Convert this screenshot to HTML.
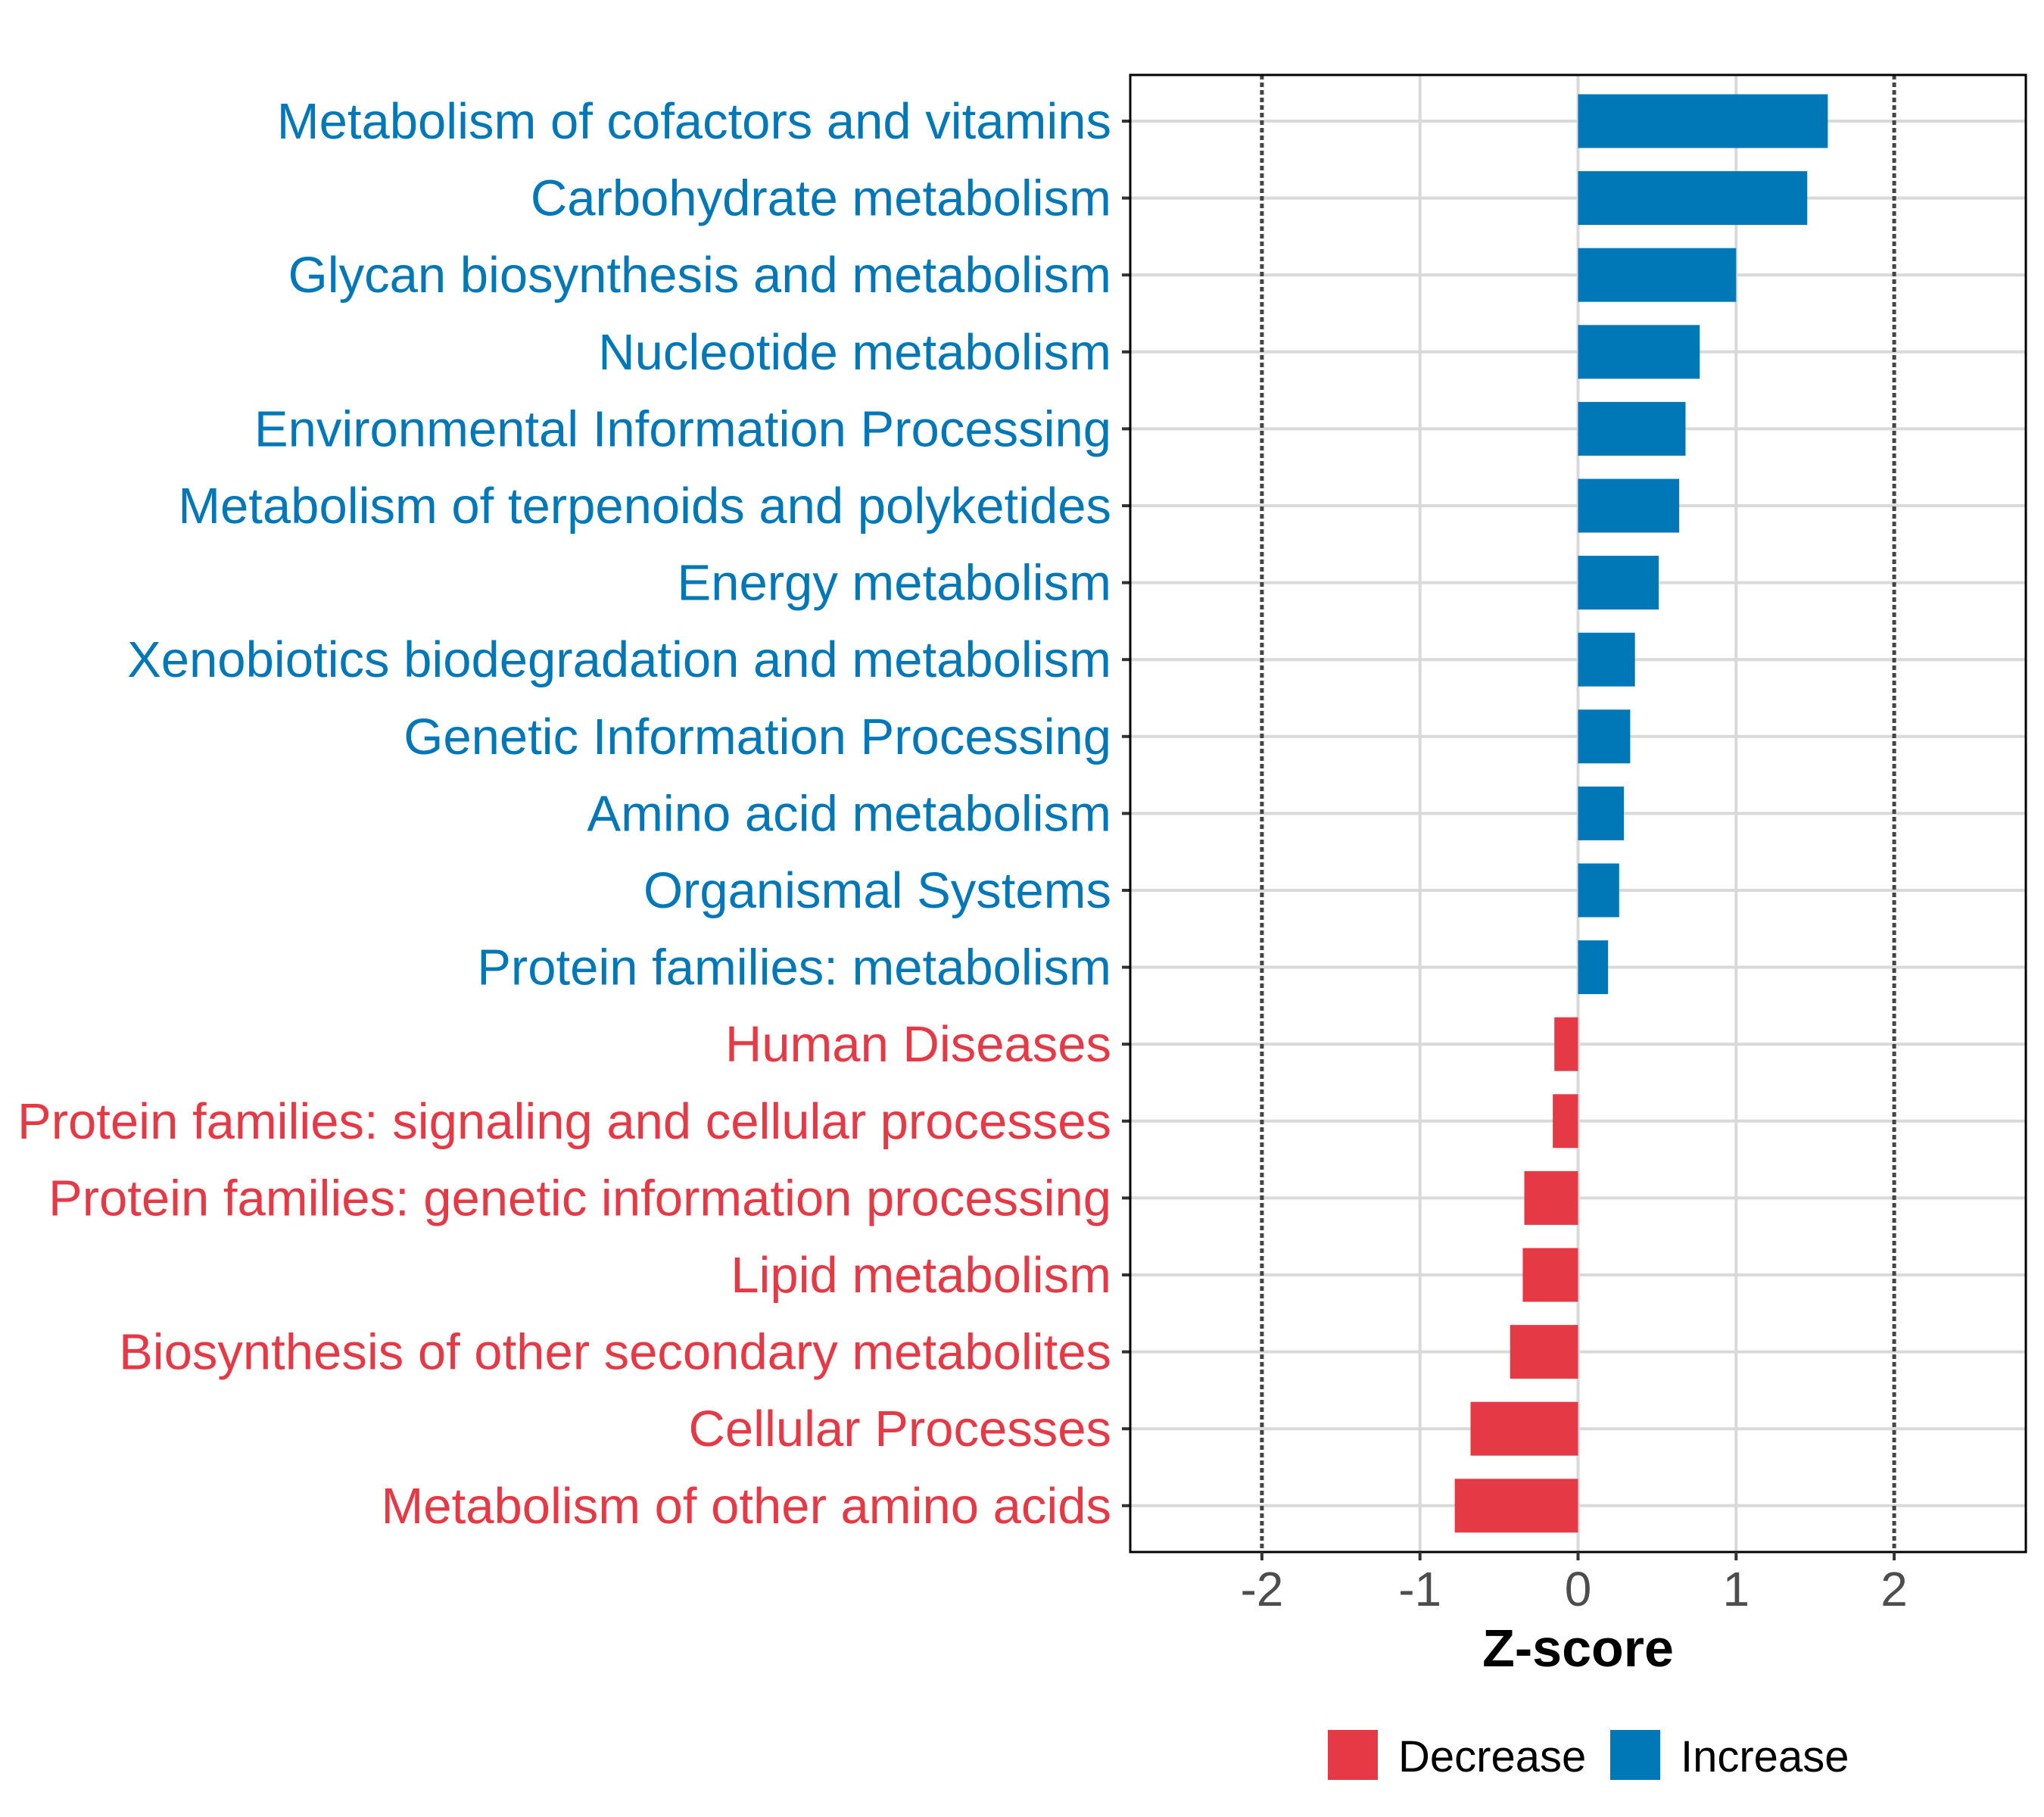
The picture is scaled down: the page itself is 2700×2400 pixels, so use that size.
<!DOCTYPE html>
<html><head><meta charset="utf-8"><style>
html,body{margin:0;padding:0;background:#fff}
svg{display:block;font-family:"Liberation Sans",Arial,sans-serif}
</style></head><body>
<svg id="chart" width="2700" height="2400" viewBox="0 0 2700 2400" xmlns="http://www.w3.org/2000/svg">
<rect width="2700" height="2400" fill="#fff"/>
<g id="grid"></g><g id="bars"></g><g id="labels"></g><g id="axis"></g>
</svg>
<script>
const categories = ["Metabolism of cofactors and vitamins","Carbohydrate metabolism","Glycan biosynthesis and metabolism","Nucleotide metabolism","Environmental Information Processing","Metabolism of terpenoids and polyketides","Energy metabolism","Xenobiotics biodegradation and metabolism","Genetic Information Processing","Amino acid metabolism","Organismal Systems","Protein families: metabolism","Human Diseases","Protein families: signaling and cellular processes","Protein families: genetic information processing","Lipid metabolism","Biosynthesis of other secondary metabolites","Cellular Processes","Metabolism of other amino acids"];
const zscores = [1.58,1.45,1.00,0.77,0.68,0.64,0.51,0.36,0.33,0.29,0.26,0.19,-0.15,-0.16,-0.34,-0.35,-0.43,-0.68,-0.78];
const xTicks = [-2,-1,0,1,2];
const xTickLabels = ["-2","-1","0","1","2"];
const legendLabels = ["Decrease","Increase"];

const NS="http://www.w3.org/2000/svg";
const L=1493,R=2676,T=99,B=2050;
const zeroX=2084.5, unit=208.8;
const xs=v=>zeroX+v*unit;
const row0=160, rowStep=101.6;
const ys=i=>row0+i*rowStep;
const BLUE="#0077b6", RED="#e63946";
function mk(tag,attrs,parent){const e=document.createElementNS(NS,tag);for(const k in attrs)e.setAttribute(k,attrs[k]);parent.appendChild(e);return e;}
const grid=document.getElementById('grid'),bars=document.getElementById('bars'),labels=document.getElementById('labels'),axis=document.getElementById('axis'),svg=document.getElementById('chart');

categories.forEach((c,i)=>{
  const g=mk('line',{x1:L,x2:R,y1:ys(i),y2:ys(i),stroke:'#d9d9d9','stroke-width':4},grid);
  
  
});
xTicks.forEach(t=>{
  const dotted=Math.abs(t)===2;
  const g=mk('line',{x1:xs(t),x2:xs(t),y1:T,y2:B,stroke:dotted?'#444':'#d9d9d9','stroke-width':dotted?5:4},grid);
  if(dotted)g.setAttribute('stroke-dasharray','6,4');
  
  
});
const bh=71;
zscores.forEach((v,i)=>{
  const x0=Math.min(xs(0),xs(v)),w=Math.abs(xs(v)-xs(0));
  const r=mk('rect',{x:x0,y:ys(i)-bh/2,width:w,height:bh,fill:v>=0?BLUE:RED},bars);
  
  
  const t=mk('text',{x:1468,y:ys(i)+23,'text-anchor':'end','font-size':67,fill:v>=0?BLUE:RED},labels);
  t.textContent=categories[i];
  
  
  const tk=mk('line',{x1:1482,x2:L,y1:ys(i),y2:ys(i),stroke:'#333','stroke-width':4},axis);
  
  
});
const fr=mk('rect',{x:L,y:T,width:R-L,height:B-T,fill:'none',stroke:'#000','stroke-width':3},axis);


xTicks.forEach((t,i)=>{
  const tk=mk('line',{x1:xs(t),x2:xs(t),y1:B,y2:B+11,stroke:'#333','stroke-width':4},axis);
  
  
  const tl=mk('text',{x:xs(t),y:2121,'text-anchor':'middle','font-size':64,fill:'#4d4d4d'},axis);
  tl.textContent=xTickLabels[i];
  
  
});
const title=mk('text',{x:xs(0),y:2201,'text-anchor':'middle','font-size':70,'font-weight':'bold',fill:'#000'},svg);
title.textContent='Z-score';


const legCols=[RED,BLUE],legX=[1754,2127];
legendLabels.forEach((lab,i)=>{
  const sq=mk('rect',{x:legX[i],y:2285,width:66,height:66,fill:legCols[i]},svg);
  
  
  const lt=mk('text',{x:legX[i]+93,y:2340,'font-size':58,fill:'#000'},svg);
  lt.textContent=lab;
  
  
});
</script>
</body></html>
